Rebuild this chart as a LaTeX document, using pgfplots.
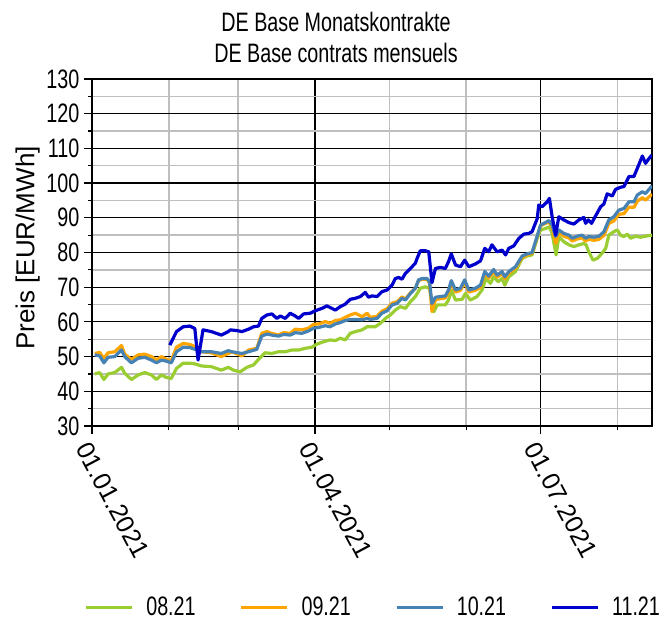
\documentclass[border=0pt]{standalone}
\usepackage{fontspec}
\setmainfont{Liberation Sans}[FakeStretch=0.74]
\newfontfamily\rotfont{Liberation Sans}
\usepackage{pgfplots}
\pgfplotsset{compat=1.18}
\definecolor{cgreen}{RGB}{154,205,50}
\definecolor{corange}{RGB}{255,165,0}
\definecolor{clblue}{RGB}{70,130,180}
\definecolor{cdblue}{RGB}{0,0,205}
\newcommand{\cf}{\fontsize{20}{24}\selectfont}
\newcommand{\rf}{\rotfont\fontsize{19}{24}\selectfont}
\begin{document}
\begin{tikzpicture}
\begin{axis}[
  name=ax,
  scale only axis,
  width=420pt, height=260.25pt,
  xmin=0, xmax=226, ymin=30, ymax=130,
  xtick={0,90,181}, xticklabels={01.01.2021,01.04.2021,01.07.2021},
  minor xtick={31,59,120,151,212},
  ytick={30,40,...,130}, minor ytick={35,45,...,125},
  grid=both,
  major grid style={black, line width=0.9pt},
  minor grid style={black!25, line width=1.1pt},
  axis line style={black, line width=0.9pt},
  tick style={black, line width=0.9pt},
  tick align=outside,
  major tick length=6pt, minor tick length=3pt,
  xtick pos=bottom, ytick pos=left,
  font=\cf,
  yticklabel style={font=\cf},
  /pgf/number format/assume math mode=true,
  xticklabel style={font=\rf, xshift=-8.5pt, yshift=-4.5pt, rotate=-62, anchor=west},
  ylabel={Preis [EUR/MWh]},
  ylabel style={at={(axis description cs:-0.115,0.513)}, anchor=center, font=\rf\fontsize{19.5}{24}\selectfont},
  legend style={at={(axis description cs:-0.014,-0.522)}, anchor=west, draw=none, fill=none, inner sep=0pt, font=\cf, legend columns=4, /tikz/every even column/.append style={column sep=31pt}},
  legend image code/.code={\draw[#1] (0pt,0pt) -- (34.5pt,0pt); \path (42pt,0pt);},
  every axis plot/.append style={line width=2.4pt, line join=round},
]
\addplot[cgreen] coordinates {(1.1,45.0) (3.1,45.4) (4.8,43.4) (6.5,45.0) (9.2,45.4) (11.9,46.9) (13.2,45.2) (15.9,43.4) (18.6,44.7) (21.3,45.4) (24.0,44.7) (26.0,43.4) (28.0,44.7) (30.0,44.0) (32.0,43.7) (34.1,46.6) (36.8,48.1) (39.5,48.1) (41.5,47.9) (44.2,47.3) (48.2,47.1) (52.2,46.1) (55.0,46.9) (57.1,46.1) (59.8,45.6) (62.5,46.9) (65.2,47.6) (67.2,49.2) (69.9,51.1) (72.6,50.9) (75.3,51.4) (78.0,51.4) (80.7,51.9) (83.4,51.9) (86.1,52.4) (88.7,52.7) (90.8,53.6) (93.5,54.3) (96.1,54.8) (98.2,54.6) (100.2,55.3) (102.2,54.8) (104.2,56.7) (106.3,57.2) (109.0,57.7) (111.0,58.6) (114.3,58.6) (116.4,59.6) (118.4,61.0) (120.4,62.0) (122.4,63.4) (124.4,64.4) (126.5,63.9) (128.5,65.8) (130.5,67.3) (132.5,69.7) (134.5,70.1) (136.2,69.7) (137.9,62.9) (139.3,64.9) (142.6,64.9) (143.9,66.3) (145.0,69.2) (146.7,66.3) (149.4,66.5) (150.7,68.2) (152.7,66.3) (155.4,67.3) (157.4,69.2) (159.0,72.5) (160.8,71.1) (162.1,73.0) (163.9,71.6) (165.5,72.5) (166.6,70.6) (168.2,73.0) (170.9,74.5) (173.6,78.3) (175.6,79.0) (177.6,79.3) (179.7,84.1) (181.0,86.5) (183.0,86.9) (184.6,87.4) (185.7,85.5) (187.3,79.3) (188.4,84.6) (190.4,83.1) (192.5,82.2) (194.5,81.7) (196.5,82.2) (198.5,82.6) (199.4,82.2) (200.5,80.2) (202.2,77.8) (203.9,78.3) (205.9,79.8) (207.3,81.2) (208.6,85.0) (210.6,86.0) (212.0,86.5) (213.3,85.0) (214.7,84.6) (216.0,85.3) (217.4,84.1) (219.4,84.7) (221.4,84.4) (223.4,84.7) (226.0,85.0)};
\addlegendentry{08.21}
\addplot[corange] coordinates {(1.1,50.9) (3.1,51.2) (4.8,49.5) (6.5,51.1) (9.2,51.4) (11.9,53.2) (13.2,50.7) (15.9,49.2) (18.6,50.5) (21.3,50.7) (24.0,50.0) (26.0,49.0) (28.0,50.0) (30.0,49.2) (32.0,48.8) (34.1,52.7) (36.8,53.8) (39.5,53.5) (41.5,52.9) (44.2,51.4) (48.2,51.1) (52.2,50.0) (55.0,50.9) (56.4,51.4) (60.5,50.2) (63.2,51.9) (66.5,52.4) (68.5,56.7) (70.6,57.2) (72.6,56.7) (75.3,56.2) (77.3,56.9) (80.0,56.7) (82.0,57.9) (84.7,57.7) (87.4,58.2) (89.4,59.3) (91.5,59.4) (94.1,60.1) (96.1,59.6) (98.2,60.4) (100.2,60.6) (102.2,61.3) (104.2,62.0) (106.3,62.5) (109.0,61.5) (111.0,62.5) (112.3,61.3) (115.0,61.6) (117.0,63.1) (119.1,63.8) (121.1,65.4) (123.1,65.8) (125.1,67.2) (126.5,66.6) (128.5,68.4) (130.5,69.7) (131.8,71.9) (133.2,72.3) (135.2,72.3) (136.2,71.2) (137.2,63.0) (138.6,66.4) (140.6,66.7) (142.6,66.9) (143.9,68.6) (145.0,71.3) (146.7,68.6) (148.7,69.1) (150.4,71.5) (152.1,68.6) (154.7,69.1) (156.8,70.0) (158.5,73.9) (160.1,72.6) (162.1,74.5) (163.5,72.9) (165.5,73.9) (166.6,72.4) (168.2,74.0) (170.9,75.5) (173.6,78.6) (175.6,79.3) (177.6,79.8) (179.7,84.5) (181.0,87.7) (182.4,88.2) (184.4,88.8) (185.7,87.4) (187.1,82.6) (188.4,85.8) (190.4,84.7) (192.5,84.2) (193.8,83.3) (195.8,83.9) (197.8,84.2) (199.2,83.3) (200.5,83.8) (202.6,83.5) (204.6,83.8) (206.6,84.9) (208.6,88.4) (210.6,89.1) (212.6,91.0) (214.7,91.2) (216.7,93.1) (218.7,93.0) (220.1,94.8) (222.1,95.8) (223.4,95.1) (226.0,96.8)};
\addlegendentry{09.21}
\addplot[clblue] coordinates {(1.1,50.5) (3.1,50.2) (4.8,48.2) (6.5,49.8) (9.2,50.0) (11.9,51.9) (13.2,50.0) (15.9,48.2) (18.6,49.5) (21.3,49.8) (24.0,49.0) (26.0,48.2) (28.0,49.0) (30.0,48.7) (32.0,48.2) (34.1,51.4) (36.8,52.7) (39.5,52.6) (41.5,52.1) (44.2,51.4) (48.2,51.4) (52.2,50.9) (55.0,51.7) (56.4,51.4) (60.5,50.9) (63.2,51.4) (66.5,52.1) (68.5,55.9) (70.6,56.5) (72.6,56.2) (75.3,55.9) (77.3,56.4) (80.0,56.2) (82.0,56.9) (84.7,56.7) (87.4,57.4) (89.4,58.2) (91.5,58.4) (94.1,58.9) (96.1,58.6) (98.2,59.4) (100.2,59.8) (102.2,60.4) (104.2,60.7) (106.3,60.7) (109.0,60.6) (111.0,61.0) (112.3,60.7) (115.0,61.0) (117.0,62.5) (119.1,63.2) (121.1,64.9) (123.1,65.3) (125.1,66.8) (126.5,66.3) (128.5,68.2) (130.5,69.7) (131.8,72.1) (133.2,72.5) (135.2,72.5) (136.2,71.6) (137.2,65.3) (138.6,67.1) (140.6,67.3) (142.6,67.5) (143.9,69.2) (145.0,71.9) (146.7,69.2) (148.7,69.7) (150.4,72.1) (152.1,69.2) (154.7,69.7) (156.8,70.6) (158.5,74.5) (160.1,73.2) (162.1,75.1) (163.5,73.5) (165.5,74.5) (166.6,73.0) (168.2,74.5) (170.9,75.9) (173.6,79.0) (175.6,79.6) (177.6,80.0) (179.7,84.8) (181.0,87.9) (182.4,88.4) (184.4,89.2) (185.7,87.9) (187.1,84.6) (188.4,86.5) (190.4,85.5) (192.5,85.0) (193.8,84.1) (195.8,84.7) (197.8,85.0) (199.2,84.1) (200.5,84.6) (202.6,84.4) (204.6,84.7) (206.6,86.0) (208.6,89.4) (210.6,90.3) (212.6,92.2) (214.7,92.7) (216.7,94.6) (218.7,94.6) (220.1,96.6) (222.1,97.5) (223.4,97.0) (224.8,98.2) (226.0,99.2)};
\addlegendentry{10.21}
\addplot[cdblue] coordinates {(31.4,53.3) (34.1,57.2) (36.8,58.6) (39.5,58.8) (41.5,58.1) (42.8,49.0) (44.8,57.7) (48.2,57.2) (52.2,56.2) (55.0,57.2) (55.8,57.7) (58.5,57.5) (60.5,57.2) (63.2,57.9) (65.2,58.6) (67.2,58.8) (68.5,61.0) (70.6,62.0) (72.6,62.3) (74.6,61.0) (76.0,61.7) (78.0,61.0) (80.0,62.5) (82.0,61.7) (83.4,61.0) (85.4,62.3) (88.1,62.5) (90.1,63.2) (92.8,63.9) (94.8,64.6) (96.8,63.9) (98.2,63.4) (100.2,64.4) (102.2,65.1) (104.2,66.5) (106.3,66.8) (108.3,67.3) (110.3,68.5) (111.6,67.1) (113.0,67.5) (115.0,67.3) (117.0,68.7) (119.1,69.2) (121.1,70.6) (122.4,72.5) (123.8,72.8) (125.1,72.3) (126.5,74.0) (128.5,75.4) (130.5,76.9) (131.2,78.3) (132.5,80.5) (134.5,80.5) (135.9,80.2) (137.2,71.3) (138.6,75.4) (140.6,75.7) (142.6,75.4) (143.9,77.4) (145.0,79.6) (146.7,76.4) (148.7,75.9) (150.4,77.8) (152.1,75.9) (154.7,76.7) (156.8,77.6) (158.5,81.2) (160.1,80.2) (161.4,82.2) (163.5,80.2) (165.5,80.7) (166.9,79.3) (168.2,81.2) (170.2,81.9) (172.3,84.1) (174.3,85.3) (176.3,85.5) (177.6,86.0) (179.7,89.8) (180.3,93.7) (181.7,93.2) (183.7,94.6) (184.6,95.6) (185.7,90.3) (187.1,85.0) (188.4,90.3) (190.4,89.4) (192.5,88.6) (194.5,88.2) (196.5,89.4) (198.5,90.1) (199.2,88.4) (200.3,89.4) (201.6,88.4) (203.2,90.5) (205.3,93.2) (206.6,94.0) (207.9,96.9) (210.0,96.3) (211.3,98.2) (213.3,98.8) (214.7,99.0) (216.7,101.9) (218.7,101.9) (220.1,104.3) (222.1,107.8) (223.4,105.7) (224.8,107.1) (226.0,108.1)};
\addlegendentry{11.21}
\end{axis}
\node[font=\cf, anchor=base] at (183pt,295.5pt) {DE Base Monatskontrakte};
\node[font=\cf, anchor=base] at (183pt,272.25pt) {DE Base contrats mensuels};
\pgfresetboundingbox
\path (-69pt,-148.5pt) rectangle (435pt,319.5pt);
\end{tikzpicture}
\end{document}
